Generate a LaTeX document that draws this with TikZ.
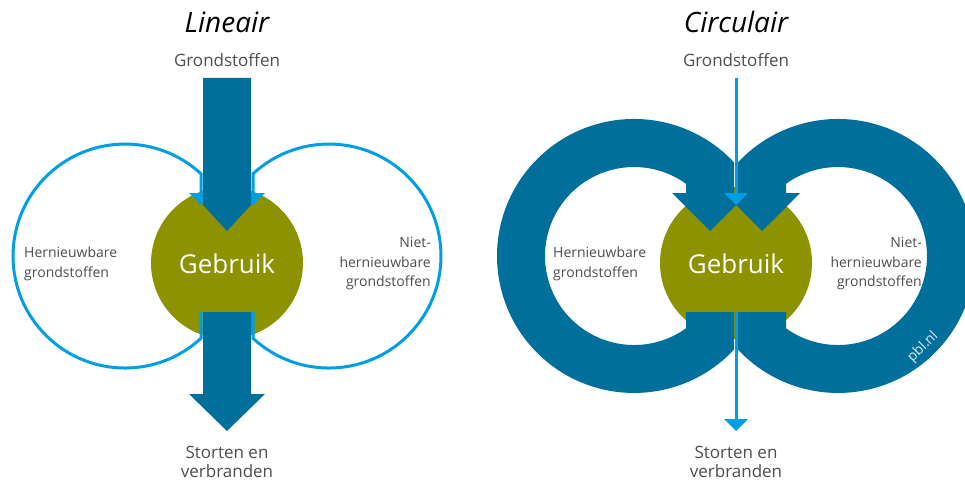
\documentclass[tikz,border=0pt]{standalone}
\usepackage{fontspec}
\setmainfont{Open Sans}
\definecolor{dblue}{RGB}{0,111,155}
\definecolor{lblue}{RGB}{0,159,227}
\definecolor{gebruikgreen}{RGB}{140,146,0}
\definecolor{txtgray}{RGB}{77,77,77}
\begin{document}
\begin{tikzpicture}[x=1pt,y=-1pt,
  ttl/.style={text=black, font=\fontsize{28}{32}\selectfont\itshape, inner sep=0pt, anchor=base},
  lbl/.style={text=txtgray, font=\fontsize{17}{20}\selectfont, inner sep=0pt, anchor=base},
  sml/.style={text=txtgray, font=\fontsize{14}{17}\selectfont, inner sep=0pt},
  gtxt/.style={text=white, font=\fontsize{26}{30}\selectfont, inner sep=0pt, anchor=base},
  thinflow/.style={draw=lblue, line width=3pt},
  thinhead/.style={fill=lblue},
  thick/.style={fill=dblue},
  usecircle/.style={fill=gebruikgreen}]
\useasboundingbox (0,0) rectangle (965,484);
\clip (0,0) rectangle (965,484);

% ---------------- Lineair ----------------
\fill[usecircle] (227,263) circle[radius=76];
% light blue loops
\draw[thinflow] (201,312) -- (201,338.3) arc[start angle=47.27, end angle=312.73, radius=112] -- (201,194);
\draw[thinflow] (253,312) -- (253,338.3) arc[start angle=132.73, end angle=-132.73, radius=112] -- (253,194);
\fill[thinhead] (189,193) -- (213,193) -- (201,205) -- cycle;
\fill[thinhead] (241,193) -- (265,193) -- (253,205) -- cycle;
% dark arrows
\fill[thick] (203,78) -- (251,78) -- (251,205) -- (227,231) -- (203,205) -- cycle;
\fill[thick] (203,312) -- (251,312) -- (251,394) -- (265,394) -- (227,431) -- (189,394) -- (203,394) -- cycle;

\node[ttl] (t1) at (227,33) {Lineair};
\node[lbl] (g1) at (227,67) {Grondstoffen};
\node[gtxt] (u1) at (227,273) {Gebruik};
\node[lbl] (s1a) at (227,458) {Storten en};
\node[lbl] (s1b) at (227,477) {verbranden};
\node[sml, anchor=base west] (h1a) at (24,257) {Hernieuwbare};
\node[sml, anchor=base west] (h1b) at (24,277) {grondstoffen};
\node[sml, anchor=base east] (n1a) at (431,247) {Niet-};
\node[sml, anchor=base east] (n1b) at (431,267) {hernieuwbare};
\node[sml, anchor=base east] (n1c) at (431,286) {grondstoffen};

% ---------------- Circulair ----------------
\fill[usecircle] (736,263) circle[radius=76];
% left ring
\fill[thick] (686,312) -- (734,312) -- (734,349.6)
  arc[start angle=43.12, end angle=316.88, radius=137]
  -- (734,193) -- (748,193) -- (710,231) -- (672,193) -- (686,193) -- (686,183.8)
  arc[start angle=305.75, end angle=54.25, radius=89] -- cycle;
% right ring
\fill[thick] (786,312) -- (738,312) -- (738,349.6)
  arc[start angle=136.88, end angle=-136.88, radius=137]
  -- (738,193) -- (724,193) -- (762,231) -- (800,193) -- (786,193) -- (786,183.8)
  arc[start angle=-125.75, end angle=125.75, radius=89] -- cycle;
% thin straight flow
\coordinate (in2) at (736,78);
\coordinate (in2e) at (736,194);
\coordinate (out2) at (736,312);
\coordinate (out2e) at (736,420);
\draw[thinflow] (in2) -- (in2e);
\fill[thinhead] (724,193) -- (748,193) -- (736,205) -- cycle;
\draw[thinflow] (out2) -- (out2e);
\fill[thinhead] (724,419) -- (748,419) -- (736,431) -- cycle;

\node[ttl] (t2) at (736,33) {Circulair};
\node[lbl] (g2) at (736,67) {Grondstoffen};
\node[gtxt] (u2) at (736,273) {Gebruik};
\node[lbl] (s2a) at (736,458) {Storten en};
\node[lbl] (s2b) at (736,477) {verbranden};
\node[sml, anchor=base west] (h2a) at (553,257) {Hernieuwbare};
\node[sml, anchor=base west] (h2b) at (553,277) {grondstoffen};
\node[sml, anchor=base east] (n2a) at (922,247) {Niet-};
\node[sml, anchor=base east] (n2b) at (922,267) {hernieuwbare};
\node[sml, anchor=base east] (n2c) at (922,286) {grondstoffen};
\node[text=white!85!dblue, font=\fontsize{14}{16}\selectfont, inner sep=0pt, rotate=45] (pbl) at (923,347) {pbl.nl};
\end{tikzpicture}
\end{document}
